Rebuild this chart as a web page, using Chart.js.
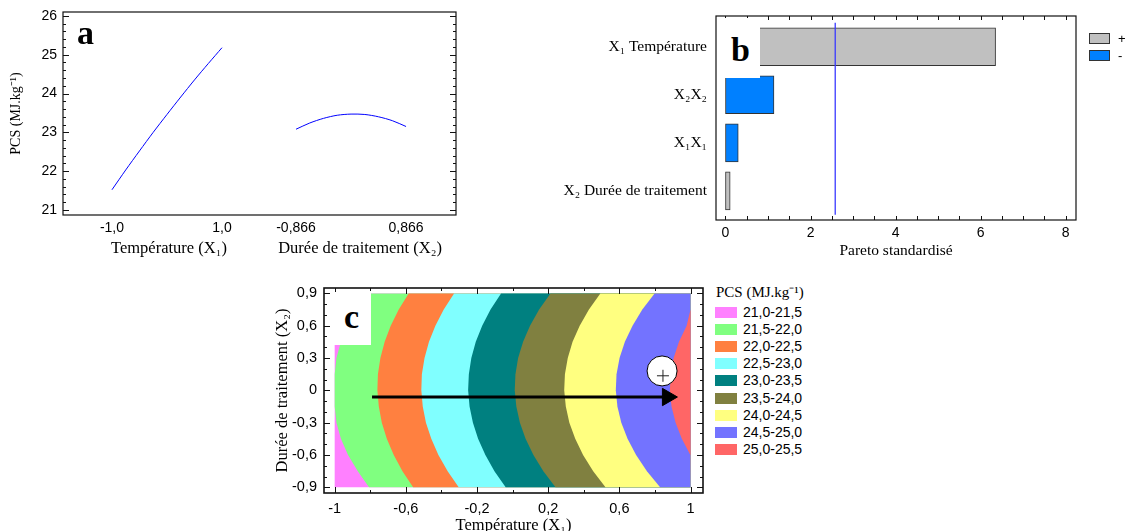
<!DOCTYPE html>
<html lang="fr">
<head>
<meta charset="utf-8">
<title>PCS – effets principaux, Pareto et contours</title>
<script src="https://cdn.jsdelivr.net/npm/chart.js@4.4.1/dist/chart.umd.min.js"></script>
<style>
  html, body { margin: 0; padding: 0; background: #fff; }
  #fig { position: relative; width: 1126px; height: 531px; overflow: hidden; font-family: 'Liberation Sans', Arial, sans-serif; }
  .panel { position: absolute; }
  .tag { position: absolute; font: bold 34px 'Liberation Serif', 'Times New Roman', serif; line-height: 1; color: #000; }
  .cover { position: absolute; background: #fff; }
  .legend-row { display: flex; align-items: center; }
  .legend-box { box-sizing: border-box; }
</style>
</head>
<body>
<div id="fig">
  <div class="panel" style="left:0;top:0;width:470px;height:265px"><canvas id="chartA"></canvas></div>
  <div class="panel" style="left:540px;top:0;width:586px;height:265px"><canvas id="chartB"></canvas></div>
  <div class="panel" style="left:270px;top:280px;width:440px;height:251px"><canvas id="chartC"></canvas></div>

  <div class="tag" style="left:77px;top:16px">a</div>
  <div class="cover" style="left:717px;top:18px;width:43px;height:60px"></div>
  <div class="tag" style="left:731px;top:33px">b</div>
  <div class="cover" style="left:334px;top:292px;width:37px;height:53px"></div>
  <div class="tag" style="left:344px;top:300px">c</div>

  <div id="legendB" style="position:absolute;left:1089px;top:30px"></div>
  <div style="position:absolute;left:716px;top:283px;font:15px 'Liberation Serif',serif;line-height:18px">PCS (MJ.kg⁻¹)</div>
  <div id="legendC" style="position:absolute;left:715px;top:303.5px"></div>
</div>

<script>
/* =============================================
   PCS — a: effets principaux, b: Pareto, c: contours
   ============================================= */

const SERIF = "'Liberation Serif', 'Times New Roman', serif";
const SANS  = "'Liberation Sans', Arial, sans-serif";
Chart.defaults.font.family = SANS;
Chart.defaults.color = '#000';
Chart.defaults.animation = false;

/* ── Données a : effets principaux ─────────── */
const tempLevels  = [-1, -0.75, -0.5, -0.25, 0, 0.25, 0.5, 0.75, 1];
const pcsTemp     = [21.52, 22.03, 22.52, 23.00, 23.46, 23.91, 24.35, 24.77, 25.18];
const dureeLevels = [-0.866, -0.65, -0.433, -0.217, 0, 0.217, 0.433, 0.65, 0.866];
const pcsDuree    = [23.08, 23.24, 23.36, 23.44, 23.47, 23.46, 23.40, 23.30, 23.15];
const effectTicks      = [21, 22, 23, 24, 25, 26];
const effectFactorTick = ['-1,0', '1,0', '-0,866', '0,866'];
const effectTitles     = ['Température (X₁)', 'Durée de traitement (X₂)'];

/* ── Données b : Pareto standardisé ───────── */
const paretoTerms    = ['X₁ Température', 'X₂X₂', 'X₁X₁', 'X₂ Durée de traitement'];
const paretoValues   = [6.35, 1.14, 0.30, 0.11];
const paretoSigns    = ['+', '-', '-', '+'];
const paretoCritical = 2.58;
const paretoTicks    = [0, 2, 4, 6, 8];

/* ── Données c : contours PCS ─────────────── */
const dureeGrid = [0.9, 0.75, 0.6, 0.45, 0.3, 0.15, 0, -0.15, -0.3, -0.45, -0.6, -0.75, -0.9];
// limite gauche (X1) de chaque classe le long de dureeGrid
const contour210 = [-1, -1, -1, -1, -1, -1, -1, -1, -1, -1, -1, -1, -1];
const contour215 = [-0.85, -0.90, -0.94, -0.965, -0.99, -1, -1, -1, -0.99, -0.965, -0.925, -0.87, -0.807];
const contour220 = [-0.584, -0.640, -0.685, -0.719, -0.743, -0.757, -0.760, -0.752, -0.735, -0.707, -0.668, -0.619, -0.559];
const contour225 = [-0.329, -0.387, -0.434, -0.470, -0.495, -0.510, -0.513, -0.505, -0.487, -0.457, -0.417, -0.365, -0.303];
const contour230 = [-0.065, -0.124, -0.171, -0.207, -0.232, -0.246, -0.250, -0.242, -0.223, -0.194, -0.153, -0.102, -0.039];
const contour235 = [0.213, 0.149, 0.098, 0.059, 0.031, 0.016, 0.012, 0.021, 0.041, 0.073, 0.117, 0.173, 0.241];
const contour240 = [0.493, 0.429, 0.377, 0.337, 0.310, 0.294, 0.290, 0.299, 0.319, 0.352, 0.396, 0.453, 0.522];
const contour245 = [0.798, 0.729, 0.674, 0.631, 0.601, 0.584, 0.580, 0.589, 0.611, 0.646, 0.694, 0.755, 0.829];
const contour250 = [1, 1, 0.978, 0.935, 0.905, 0.888, 0.884, 0.893, 0.916, 0.951, 0.999, 1, 1];
const bandLabels = ['21,0-21,5', '21,5-22,0', '22,0-22,5', '22,5-23,0', '23,0-23,5',
                    '23,5-24,0', '24,0-24,5', '24,5-25,0', '25,0-25,5'];
const bandColors = ['#ff80ff', '#80ff80', '#ff8040', '#80ffff', '#008080',
                    '#808040', '#ffff80', '#7373ff', '#ff6666'];
const contourTicksX      = [-1, -0.6, -0.2, 0.2, 0.6, 1];
const contourTickLabelsX = ['-1', '-0,6', '-0,2', '0,2', '0,6', '1'];
const contourTicksY      = [-0.9, -0.6, -0.3, 0, 0.3, 0.6, 0.9];
const contourTickLabelsY = ['-0,9', '-0,6', '-0,3', '0', '0,3', '0,6', '0,9'];
const arrowY = -0.062, arrowFrom = -0.79, arrowTo = 0.87;
const optimum = { x: 0.84, y: 0.18 };

/* ── utilitaires ──────────────────────────── */
const steps = (a, b, s) => Array.from({ length: Math.round((b - a) / s) + 1 }, (_, i) => +(a + i * s).toFixed(3));
const fixTicks = vals => scale => { scale.ticks = vals.map(v => ({ value: v })); };
// taille imposée de l'axe, sans marge ajoutée pour les étiquettes
const fitX = h => s => { s.height = h; s.paddingLeft = 0; s.paddingRight = 0; };
const fitY = w => s => { s.width = w; s.paddingTop = 0; s.paddingBottom = 0; };

// cadre + graduations intérieures
const frameTicks = {
  id: 'frameTicks',
  afterDraw(chart, args, opts) {
    const { ctx, chartArea: a, scales } = chart;
    ctx.save();
    ctx.strokeStyle = '#111';
    ctx.lineWidth = opts.width || 1;
    ctx.strokeRect(a.left, a.top, a.right - a.left, a.bottom - a.top);
    ctx.lineWidth = 1;
    for (const m of opts.marks || []) {
      const s = scales[m.scale];
      for (const v of m.values) {
        const p = Math.round(s.getPixelForValue(v)) + 0.5;
        ctx.beginPath();
        for (const side of m.sides) {
          if (side === 'top')    { ctx.moveTo(p, a.top);    ctx.lineTo(p, a.top + m.len); }
          if (side === 'bottom') { ctx.moveTo(p, a.bottom); ctx.lineTo(p, a.bottom - m.len); }
          if (side === 'left')   { ctx.moveTo(a.left, p);   ctx.lineTo(a.left + m.len, p); }
          if (side === 'right')  { ctx.moveTo(a.right, p);  ctx.lineTo(a.right - m.len, p); }
        }
        ctx.stroke();
      }
    }
    ctx.restore();
  }
};

const noGrid = { display: false, drawTicks: false };
const noBorder = { display: false };
const common = {
  responsive: true,
  maintainAspectRatio: false,
  events: [],
};

/* ── a : effets principaux ────────────────── */
const SEG1 = [0, 1], SEG2 = [1.673, 2.673];
const posTemp  = t => SEG1[0] + (t - tempLevels[0]) / (tempLevels.at(-1) - tempLevels[0]) * (SEG1[1] - SEG1[0]);
const posDuree = d => SEG2[0] + (d - dureeLevels[0]) / (dureeLevels.at(-1) - dureeLevels[0]) * (SEG2[1] - SEG2[0]);

new Chart(document.getElementById('chartA'), {
  type: 'line',
  data: {
    datasets: [
      { data: tempLevels.map((t, i) => ({ x: posTemp(t), y: pcsTemp[i] })) },
      { data: dureeLevels.map((d, i) => ({ x: posDuree(d), y: pcsDuree[i] })) },
    ].map(ds => ({ ...ds, borderColor: '#0000ff', borderWidth: 1, pointRadius: 0, tension: 0.3, fill: false })),
  },
  options: {
    ...common,
    layout: { autoPadding: false, padding: { top: 12, right: 14, left: 0, bottom: 0 } },
    plugins: {
      legend: { display: false }, tooltip: { enabled: false },
      frameTicks: {
        width: 1.2,
        marks: [
          { scale: 'y', values: effectTicks, sides: ['left', 'right'], len: 6 },
          { scale: 'y', values: steps(21, 26, 0.2).filter(v => v % 1 !== 0), sides: ['left', 'right'], len: 3 },
        ],
      },
    },
    scales: {
      x: {
        type: 'linear', min: -0.445, max: 3.127, weight: 0,
        afterBuildTicks: fixTicks([SEG1[0], SEG1[1], SEG2[0], SEG2[1]]),
        ticks: { autoSkip: false, maxRotation: 0, padding: 5, font: { size: 14 }, callback: (v, i) => effectFactorTick[i] },
        grid: noGrid, border: noBorder,
        afterFit: fitX(22),
      },
      xt: {
        type: 'linear', position: 'bottom', min: -0.445, max: 3.127, weight: 1,
        afterBuildTicks: fixTicks([0.518, 2.255]),
        ticks: { autoSkip: false, maxRotation: 0, padding: 2, font: { family: SERIF, size: 16.5 }, callback: (v, i) => effectTitles[i] },
        grid: noGrid, border: noBorder,
        afterFit: fitX(28),
      },
      y: {
        type: 'linear', min: 20.87, max: 26.10,
        afterBuildTicks: fixTicks(effectTicks),
        ticks: { padding: 6, font: { size: 14 }, callback: v => String(v) },
        title: { display: true, text: 'PCS (MJ.kg⁻¹)', font: { family: SERIF, size: 14 }, padding: { top: 8, bottom: 0 } },
        grid: noGrid, border: noBorder,
        afterFit: fitY(63),
      },
    },
  },
  plugins: [frameTicks],
});

/* ── b : diagramme de Pareto ──────────────── */
const signColor = { '+': '#c0c0c0', '-': '#0080ff' };

new Chart(document.getElementById('chartB'), {
  type: 'bar',
  data: {
    datasets: [
      {
        type: 'bar',
        data: paretoValues.map((v, i) => ({ x: v, y: i })),
        backgroundColor: paretoSigns.map(s => signColor[s]),
        borderColor: '#333',
        borderWidth: 1,
        borderSkipped: false,
        barThickness: 38,
        order: 1,
      },
      {
        type: 'line',
        data: [{ x: paretoCritical, y: -0.5 }, { x: paretoCritical, y: 3.5 }],
        borderColor: '#3a3aff',
        borderWidth: 1.3,
        pointRadius: 0,
        fill: false,
        order: 0,
      },
    ],
  },
  options: {
    ...common,
    indexAxis: 'y',
    layout: { autoPadding: false, padding: { top: 16, right: 50, left: 0, bottom: 0 } },
    plugins: {
      legend: { display: false }, tooltip: { enabled: false },
      frameTicks: {
        width: 1.2,
        marks: [{ scale: 'x', values: steps(0, 8, 0.5), sides: ['top', 'bottom'], len: 4 }],
      },
    },
    scales: {
      x: {
        type: 'linear', min: -0.223, max: 8.241,
        afterBuildTicks: fixTicks(paretoTicks),
        ticks: { autoSkip: false, maxRotation: 0, padding: 5, font: { size: 14 }, callback: v => String(v) },
        title: { display: true, text: 'Pareto standardisé', font: { family: SERIF, size: 15.5 }, padding: { top: 0, bottom: 5 } },
        grid: noGrid, border: noBorder,
        afterFit: fitX(45),
      },
      y: {
        type: 'linear', reverse: true, offset: false, min: -0.64, max: 3.607,
        afterBuildTicks: fixTicks(paretoTerms.map((_, i) => i)),
        ticks: { autoSkip: false, padding: 9, font: { family: SERIF, size: 15.5 }, callback: v => paretoTerms[v] },
        grid: noGrid, border: noBorder,
        afterFit: fitY(176),
      },
    },
  },
  plugins: [frameTicks],
});

// légende b
document.getElementById('legendB').innerHTML = ['+', '-'].map(s => `
  <div class="legend-row" style="height:17px">
    <div class="legend-box" style="width:21px;height:11px;background:${signColor[s]};border:1px solid #333"></div>
    <span style="margin-left:8px;font:13px ${SANS};line-height:17px">${s}</span>
  </div>`).join('');

/* ── c : contours ─────────────────────────── */
const contours = [contour210, contour215, contour220, contour225, contour230,
                  contour235, contour240, contour245, contour250];
const X1_MAX = 1;
// classe k : zone à droite de son contour inférieur
const bandShape = xs => [
  ...xs.map((x, i) => ({ x, y: dureeGrid[i] })),
  { x: X1_MAX, y: dureeGrid.at(-1) },
  { x: X1_MAX, y: dureeGrid[0] },
];

const bandDatasets = contours.map((xs, k) => ({
  data: bandShape(xs),
  fill: 'shape',
  backgroundColor: bandColors[k],
  borderColor: 'transparent',
  borderWidth: 0,
  pointRadius: 0,
  tension: 0,
  order: 30 - k,
}));

new Chart(document.getElementById('chartC'), {
  type: 'line',
  data: {
    datasets: [
      ...bandDatasets,
      { // flèche
        data: [{ x: arrowFrom, y: arrowY }, { x: arrowTo, y: arrowY }],
        borderColor: '#000', borderWidth: 3, pointRadius: 0, fill: false, order: 3,
      },
      { // pointe
        data: [{ x: arrowTo, y: arrowY }],
        showLine: false, pointStyle: 'triangle', pointRotation: 90, pointRadius: 10,
        pointBackgroundColor: '#000', pointBorderColor: '#000', pointBorderWidth: 1, order: 2,
      },
      { // optimum
        data: [optimum],
        showLine: false, pointRadius: 15,
        pointBackgroundColor: '#fff', pointBorderColor: '#000', pointBorderWidth: 1, order: 1,
      },
      {
        data: [{ x: optimum.x + 0.005, y: optimum.y - 0.045 }],
        showLine: false, pointStyle: 'cross', pointRadius: 6,
        pointBorderColor: '#222', pointBorderWidth: 1, order: 0,
      },
    ],
  },
  options: {
    ...common,
    layout: { autoPadding: false, padding: { top: 8, right: 7, left: 0, bottom: 0 } },
    plugins: {
      legend: { display: false }, tooltip: { enabled: false },
      frameTicks: {
        width: 1.6,
        marks: [
          { scale: 'x', values: contourTicksX, sides: ['top', 'bottom'], len: 6 },
          { scale: 'x', values: [-0.8, -0.4, 0, 0.4, 0.8], sides: ['top', 'bottom'], len: 3 },
          { scale: 'y', values: contourTicksY, sides: ['left', 'right'], len: 6 },
          { scale: 'y', values: steps(-0.9, 0.9, 0.1).filter(v => !contourTicksY.includes(v)), sides: ['left', 'right'], len: 3 },
        ],
      },
    },
    scales: {
      x: {
        type: 'linear', min: -1.06, max: 1.07,
        afterBuildTicks: fixTicks(contourTicksX),
        ticks: { autoSkip: false, maxRotation: 0, padding: 7, font: { size: 14.5 }, callback: (v, i) => contourTickLabelsX[i] },
        title: { display: true, text: 'Température (X₁)', font: { family: SERIF, size: 16.5, lineHeight: 1 }, padding: { top: 0, bottom: -3 } },
        grid: noGrid, border: noBorder,
        afterFit: fitX(38),
      },
      y: {
        type: 'linear', min: -0.953, max: 0.95,
        afterBuildTicks: fixTicks(contourTicksY),
        ticks: { autoSkip: false, padding: 7, font: { size: 14.5 }, callback: (v, i) => contourTickLabelsY[i] },
        title: { display: true, text: 'Durée de traitement (X₂)', font: { family: SERIF, size: 16.5, lineHeight: 1 }, padding: { top: 4, bottom: 0 } },
        grid: noGrid, border: noBorder,
        afterFit: fitY(54),
      },
    },
  },
  plugins: [frameTicks],
});

// légende c
document.getElementById('legendC').innerHTML = bandLabels.map((lab, k) => `
  <div class="legend-row" style="height:17.2px">
    <div class="legend-box" style="width:22px;height:11px;background:${bandColors[k]}"></div>
    <span style="margin-left:6px;font:14px ${SANS};line-height:15px">${lab}</span>
  </div>`).join('');
</script>
</body>
</html>
